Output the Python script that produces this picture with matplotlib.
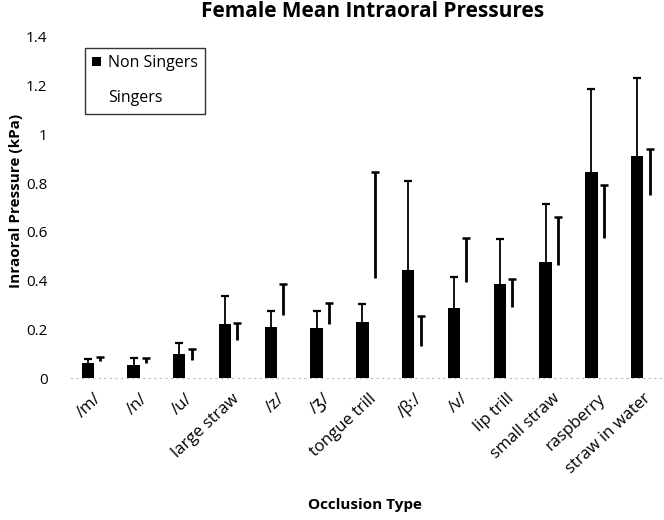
import matplotlib
matplotlib.use("Agg")
import matplotlib.pyplot as plt
import numpy as np

plt.rcParams['font.family'] = ['Open Sans', 'DejaVu Sans']

categories = ['/m/', '/n/', '/u/', 'large straw', '/z/', '/ʒ/', 'tongue trill',
              '/β:/', '/v/', 'lip trill', 'small straw', 'raspberry', 'straw in water']
non_singers = [0.060, 0.053, 0.100, 0.222, 0.210, 0.204, 0.231, 0.443, 0.286, 0.386, 0.476, 0.844, 0.910]
non_singers_sd = [0.017, 0.030, 0.042, 0.113, 0.065, 0.071, 0.071, 0.367, 0.127, 0.183, 0.238, 0.342, 0.320]
singers = [0.070, 0.060, 0.074, 0.156, 0.258, 0.222, 0.412, 0.131, 0.395, 0.293, 0.464, 0.573, 0.751]
singers_sd = [0.018, 0.023, 0.044, 0.071, 0.127, 0.087, 0.435, 0.123, 0.181, 0.113, 0.198, 0.218, 0.188]
yticks = [0, 0.2, 0.4, 0.6, 0.8, 1, 1.2, 1.4]
ytick_labels = ['0', '0.2', '0.4', '0.6', '0.8', '1', '1.2', '1.4']

fig = plt.figure(figsize=(6.64, 5.2), dpi=100)
ax = fig.add_axes([71/664, 1-378/520, 1-71/664, (378-37)/520])

x = np.arange(len(categories))
w = 0.27
b1 = ax.bar(x - w/2, non_singers, w, color='black', label='Non Singers',
            yerr=[np.zeros(len(x)), non_singers_sd],
            error_kw=dict(ecolor='black', elinewidth=1.3, capsize=3, capthick=1.6))
b2 = ax.bar(x + w/2, singers, w, color='white', label='Singers',
            yerr=[np.zeros(len(x)), singers_sd],
            error_kw=dict(ecolor='black', elinewidth=2.0, capsize=3, capthick=1.8))
# keep only the upper caps
for b in (b1, b2):
    caps = b.errorbar.lines[1]
    if len(caps) == 2:
        caps[0].set_visible(False)

ax.set_xlim(-0.5, 12.45)
ax.set_ylim(0, 1.4)
ax.set_yticks(yticks)
ax.set_yticklabels(ytick_labels, fontsize=11)
ax.tick_params(axis='y', length=0, pad=17)
ax.set_xticks(x)
ax.set_xticklabels(categories, rotation=43, ha='right', rotation_mode='anchor', fontsize=12)
ax.tick_params(axis='x', length=0, pad=9)

for s in ['top', 'right', 'left']:
    ax.spines[s].set_visible(False)
ax.spines['bottom'].set_color('#bbbbbb')
ax.spines['bottom'].set_linestyle((0, (1, 4)))
ax.spines['bottom'].set_linewidth(0.8)

ax.set_ylabel('Inraoral Pressure (kPa)', fontsize=11, fontweight='bold')
ax.yaxis.set_label_coords((23-71)/593, (378-201)/341)
ax.set_xlabel('Occlusion Type', fontsize=11, fontweight='bold', va='center')
ax.xaxis.set_label_coords((365-71)/593, (378-505)/341)
fig.text(373/664, 1-1/520, 'Female Mean Intraoral Pressures', fontsize=15, fontweight='bold',
         ha='center', va='top')

leg = ax.legend(loc='upper left', bbox_to_anchor=((85-71)/593, 1 - (48-37)/341), borderaxespad=0,
                frameon=True, fancybox=False, edgecolor='black', fontsize=11.5, handlelength=0.55,
                handleheight=0.55, handletextpad=0.45, labelspacing=1.2, borderpad=0.45)
leg.get_frame().set_linewidth(1.0)

fig.savefig('out.png', dpi=100)
